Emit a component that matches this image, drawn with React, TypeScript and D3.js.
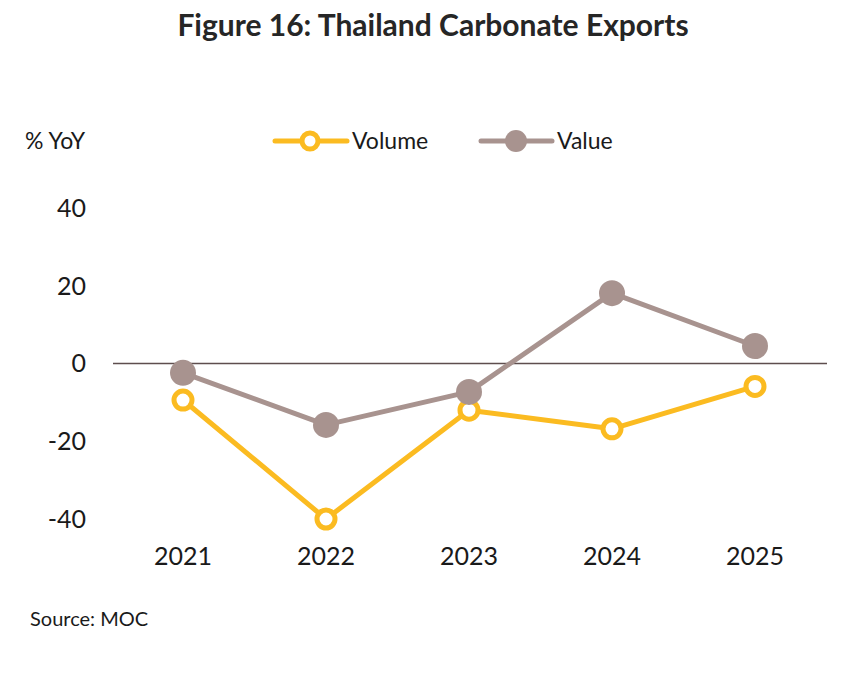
import { useEffect, useRef } from 'react';
import * as d3 from 'd3';

const years = ['2021', '2022', '2023', '2024', '2025'];
const volume = [-9.4, -40, -12, -16.8, -5.9];
const value = [-2.4, -15.8, -7.3, 18.1, 4.5];
const yTicks = [-40, -20, 0, 20, 40];

const YELLOW = '#fbbb21';
const MAUVE = '#a8938f';
const FONT = 'Lato, "Open Sans", sans-serif';

export default function App() {
  const svgRef = useRef<SVGSVGElement>(null);
  const width = 855;
  const height = 679;

  useEffect(() => {
    if (!svgRef.current) return;
    const svg = d3.select(svgRef.current);
    svg.selectAll('*').remove();

    svg.append('rect').attr('width', width).attr('height', height).attr('fill', '#fff');

    // Scales
    const xScale = d3.scalePoint<string>().domain(years).range([183, 755]);
    const yScale = d3.scaleLinear().domain([-40, 40]).range([519, 208]);

    // Title
    svg
      .append('text')
      .attr('x', 433)
      .attr('y', 36)
      .attr('text-anchor', 'middle')
      .attr('font-family', FONT)
      .attr('font-size', '30px')
      .attr('font-weight', '700')
      .attr('fill', '#262626')
      .text('Figure 16: Thailand Carbonate Exports');

    // Unit label
    svg
      .append('text')
      .attr('x', 25)
      .attr('y', 149)
      .attr('font-family', FONT)
      .attr('font-size', '23px')
      .attr('fill', '#1a1a1a')
      .text('% YoY');

    // Y tick labels
    svg
      .append('g')
      .selectAll('text')
      .data(yTicks)
      .join('text')
      .attr('x', 86)
      .attr('y', (d) => yScale(d))
      .attr('dy', '0.35em')
      .attr('text-anchor', 'end')
      .attr('font-family', FONT)
      .attr('font-size', '25px')
      .attr('fill', '#1a1a1a')
      .text((d) => d);

    // X labels
    svg
      .append('g')
      .selectAll('text')
      .data(years)
      .join('text')
      .attr('x', (d) => xScale(d) as number)
      .attr('y', 565)
      .attr('text-anchor', 'middle')
      .attr('font-family', FONT)
      .attr('font-size', '25px')
      .attr('fill', '#1a1a1a')
      .text((d) => d);

    // Zero line
    svg
      .append('line')
      .attr('x1', 113)
      .attr('x2', 827)
      .attr('y1', yScale(0))
      .attr('y2', yScale(0))
      .attr('stroke', '#5e4e4e')
      .attr('stroke-width', 1.5);

    const line = d3
      .line<number>()
      .x((_, i) => xScale(years[i]) as number)
      .y((d) => yScale(d));

    // Volume series
    svg
      .append('path')
      .datum(volume)
      .attr('fill', 'none')
      .attr('stroke', YELLOW)
      .attr('stroke-width', 5)
      .attr('stroke-linejoin', 'round')
      .attr('d', line);

    // Value series
    svg
      .append('path')
      .datum(value)
      .attr('fill', 'none')
      .attr('stroke', MAUVE)
      .attr('stroke-width', 5)
      .attr('stroke-linejoin', 'round')
      .attr('d', line);

    svg
      .append('g')
      .selectAll('circle')
      .data(volume)
      .join('circle')
      .attr('cx', (_, i) => xScale(years[i]) as number)
      .attr('cy', (d) => yScale(d))
      .attr('r', 9)
      .attr('fill', '#fff')
      .attr('stroke', YELLOW)
      .attr('stroke-width', 5);

    svg
      .append('g')
      .selectAll('circle')
      .data(value)
      .join('circle')
      .attr('cx', (_, i) => xScale(years[i]) as number)
      .attr('cy', (d) => yScale(d))
      .attr('r', 13)
      .attr('fill', MAUVE);

    // Legend
    const legend = svg.append('g');
    legend
      .append('line')
      .attr('x1', 275)
      .attr('x2', 347)
      .attr('y1', 141)
      .attr('y2', 141)
      .attr('stroke', YELLOW)
      .attr('stroke-width', 5)
      .attr('stroke-linecap', 'round');
    legend
      .append('circle')
      .attr('cx', 310)
      .attr('cy', 141)
      .attr('r', 8)
      .attr('fill', '#fff')
      .attr('stroke', YELLOW)
      .attr('stroke-width', 5);
    legend
      .append('text')
      .attr('x', 352)
      .attr('y', 149)
      .attr('font-family', FONT)
      .attr('font-size', '23px')
      .attr('fill', '#1a1a1a')
      .text('Volume');

    legend
      .append('line')
      .attr('x1', 481)
      .attr('x2', 552)
      .attr('y1', 141)
      .attr('y2', 141)
      .attr('stroke', MAUVE)
      .attr('stroke-width', 5)
      .attr('stroke-linecap', 'round');
    legend
      .append('circle')
      .attr('cx', 516)
      .attr('cy', 141)
      .attr('r', 11)
      .attr('fill', MAUVE);
    legend
      .append('text')
      .attr('x', 557)
      .attr('y', 149)
      .attr('font-family', FONT)
      .attr('font-size', '23px')
      .attr('fill', '#1a1a1a')
      .text('Value');

    // Source note
    svg
      .append('text')
      .attr('x', 30)
      .attr('y', 626)
      .attr('font-family', FONT)
      .attr('font-size', '20px')
      .attr('fill', '#1a1a1a')
      .text('Source: MOC');
  }, []);

  return (
    <svg
      ref={svgRef}
      width={width}
      height={height}
      style={{ position: 'absolute', left: 0, top: 0, display: 'block' }}
    />
  );
}
